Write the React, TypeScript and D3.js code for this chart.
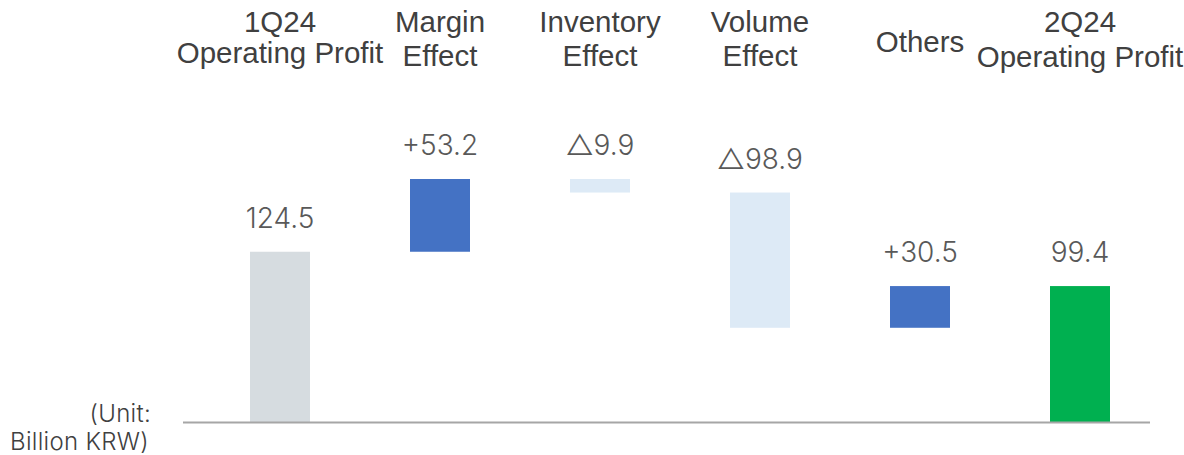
import React from "react";
import * as d3 from "d3";

// Operating profit bridge, 1Q24 → 2Q24 (billion KRW)
const categories = ["1Q24 OP", "Margin", "Inventory", "Volume", "Others", "2Q24 OP"];
const headerLines: string[][] = [
  ["1Q24", "Operating Profit"],
  ["Margin", "Effect"],
  ["Inventory", "Effect"],
  ["Volume", "Effect"],
  ["Others"],
  ["2Q24", "Operating Profit"],
];
const deltas = [124.5, 53.2, -9.9, -98.9, 30.5, 99.4];
const kinds = ["total", "delta", "delta", "delta", "delta", "total"];
const valueLabels = ["124.5", "+53.2", "△9.9", "△98.9", "+30.5", "99.4"];
const unitLines = ["(Unit:", "Billion KRW)"];

const W = 1184;
const H = 455;
const baseY = 422;

export default function App() {
  const x = d3.scalePoint<string>().domain(categories).range([280, 1080]);
  const y = d3.scaleLinear().domain([0, 177.7]).range([baseY, 179]);
  const barW = 60;

  // running totals for the floating bars
  let running = 0;
  const bars = categories.map((c, i) => {
    const v = deltas[i];
    let lo: number, hi: number;
    if (kinds[i] === "total") {
      lo = 0;
      hi = v;
      running = v;
    } else {
      const start = running;
      running = start + v;
      lo = Math.min(start, running);
      hi = Math.max(start, running);
    }
    let fill = "#D6DCE0";
    if (kinds[i] === "delta") fill = v >= 0 ? "#4472C4" : "#DDEAF6";
    if (i === categories.length - 1) fill = "#00B050";
    return { c, i, lo, hi, fill, label: valueLabels[i], header: headerLines[i] };
  });

  return (
    <svg width={W} height={H} style={{ display: "block", position: "absolute", left: 0, top: 0 }}>
      {bars.map((b) => {
        const cx = x(b.c)!;
        const top = y(b.hi);
        const bottom = y(b.lo);
        const secondLine = b.i === 0 ? 63 : b.i === bars.length - 1 ? 67 : 66;
        return (
          <g key={b.c}>
            <rect x={cx - barW / 2} y={top} width={barW} height={bottom - top} fill={b.fill} />
            <text
              x={cx}
              y={top - 24}
              textAnchor="middle"
              fontFamily="Inter, 'DejaVu Sans', sans-serif"
              fontWeight={300}
              fontSize={28}
              fill="#595959"
            >
              {b.label}
            </text>
            {b.header.map((line, j) => {
              const yy = b.header.length === 1 ? 52 : j === 0 ? 32 : secondLine;
              return (
                <text
                  key={j}
                  x={cx}
                  y={yy}
                  textAnchor="middle"
                  fontFamily="'Liberation Sans', Arial, sans-serif"
                  fontSize={29.5}
                  fill="#404040"
                >
                  {line}
                </text>
              );
            })}
          </g>
        );
      })}
      <line x1={183} x2={1150} y1={baseY + 0.5} y2={baseY + 0.5} stroke="#A6A6A6" strokeWidth={2} />
      {unitLines.map((t, i) => (
        <text
          key={i}
          x={i === 0 ? 151 : 149}
          y={i === 0 ? 422 : 450}
          textAnchor="end"
          fontFamily="Inter, 'DejaVu Sans', sans-serif"
          fontWeight={300}
          fontSize={24}
          letterSpacing={0.3}
          fill="#404040"
        >
          {t}
        </text>
      ))}
    </svg>
  );
}
